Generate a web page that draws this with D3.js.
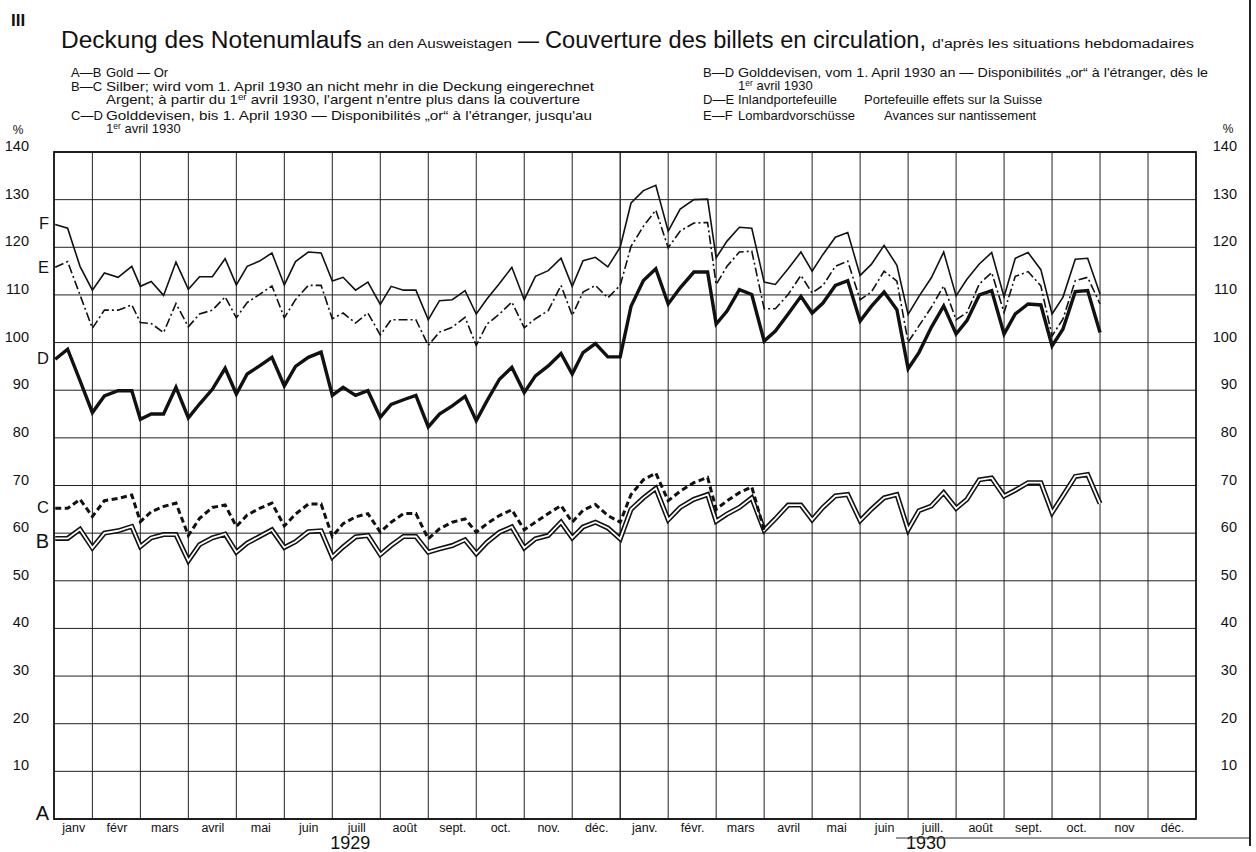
<!DOCTYPE html>
<html><head><meta charset="utf-8">
<script src="https://cdn.jsdelivr.net/npm/d3@7"></script>
<style>
body{margin:0;background:#fff}
svg{display:block}
text{font-family:'Liberation Sans',Arial,sans-serif;fill:#111}
</style></head><body>
<svg id="c" width="1256" height="852"></svg>
<script>
// ---------- data ----------
const monthLabels = ["janv","févr","mars","avril","mai","juin","juill","août","sept.","oct.","nov.","déc.",
                     "janv.","févr.","mars","avril","mai","juin","juill.","août","sept.","oct.","nov","déc."];
const yearLabels = ["1929","1930"];
const daysInMonth = [31,28,31,30,31,30,31,31,30,31,30,31, 31,28,31,30,31,30,31,31,30,31,30,31];
const reportDays = [7,15,23,31];   // Ausweistage: 7., 15., 23., Monatsende
const yTicks = [0,10,20,30,40,50,60,70,80,90,100,110,120,130,140];
const yTickLabels = [10,20,30,40,50,60,70,80,90,100,110,120,130,140];

// A-B Gold
const serieB = [58.9,58.9,60.8,56.9, 60,60.5,61.4,57.2, 59,59.7,59.7,54.2, 57.6,59,59.8,56,
  57.9,59.3,60.7,57, 58.2,60.3,60.5,55, 57.1,59.2,59.5,55.5, 57.4,59.3,59.3,56,
  56.7,57.4,58.6,55.7, 58.1,60.2,61.3,56.9, 58.8,59.5,62.3,59, 61.3,62.3,61.1,58.8,
  65,67.4,69.4,62.8, 65.4,67.1,68.1,62.5, 64,65.4,67.4,60.6, 63,65.9,65.9,62.8,
  65.4,67.8,68.1,62.6, 65,67.4,68.1,60.7, 64.7,65.7,68.5,65.2, 67.1,71.2,71.6,67.8,
  69,70.6,70.6,64.3, 67.8,71.9,72.3,66.2];
// B-C Silber (bis 31. März 1930)
const serieC = [65.2,65.2,67.1,63.5, 66.8,67.3,68,62.4, 64.5,65.6,66.3,59.5, 63.1,65.4,65.9,61.4,
  63.8,65.2,66.3,61.5, 64,66.1,66.1,59.3, 62,63.4,64.1,60.2, 62.3,64.1,64.1,58.8,
  60.9,62.3,63,60.2, 62,63.7,64.9,60.7, 62.3,64.1,65.8,62.3, 64.8,66,63.7,62.3,
  68.1,71.2,72.6,66.8, 68.8,70.6,71.7,65, 66.8,68.5,69.7,60.6];
// C-D / B-D Golddevisen
const serieD = [96.5,98.6,92,85.3, 88.8,89.9,89.9,83.9, 85,85,90.6,84.2, 87.1,90.2,94.6,89.2,
  93.4,95.1,96.9,90.9, 95,96.9,98,88.9, 90.6,88.9,89.9,84.3, 87,88,88.9,82.3,
  85,86.7,88.7,83.6, 87.8,92.3,94.8,89.5, 93,95.1,97.7,93.4, 97.9,99.8,97,97,
  107.6,113,115.5,108.1, 111.5,114.8,114.8,103.9, 106.6,111.1,110.1,100.3, 102.4,106,109.7,106.2,
  108.3,112,113,104.5, 107.6,110.6,106.9,94.5, 97.9,103.2,107.7,101.8, 104.6,110,110.9,101.8,
  106,108.1,107.9,99.3, 102.8,110.7,110.9,102.1];
// D-E Inlandportefeuille
const serieE = [115.8,117,110,103, 106.8,106.8,107.9,104.2, 104,102.1,108.2,103.3, 106,106.8,109.6,105.2,
  108.4,110.1,111.9,105.2, 109,112,112,105, 106.2,104.1,106.2,101.6, 104.8,104.8,104.8,99.4,
  102.2,103.2,105.3,99.4, 103.9,106,108.5,103.1, 105,106.7,112,105.7, 110.6,112,109.4,112,
  120.2,124.4,127.8,119.9, 123.4,125.1,125.2,112.2, 116,119,119.2,107.1, 107.1,110.1,114.1,110.4,
  112,116,117.1,109, 110.6,115,112.9,100.1, 103.5,107.4,111.9,104.8, 106.3,112.3,114.7,106.3,
  113.9,114.9,111.9,101.4, 104.9,113,113.7,108.1];
// E-F Lombardvorschüsse
const serieF = [124.8,124,116,111, 114.6,113.7,116,111.8, 112.8,109.9,116.9,111.2, 113.8,113.8,117.6,112.1,
  116,117.1,118.8,112.1, 117,119,118.8,112.9, 113.7,111,112.7,108, 111.8,111,111,104.8,
  108.8,109,110.9,106, 109.2,112.4,115.8,109, 113.9,115.1,117.7,111.8, 117.2,117.9,115.9,120,
  129.3,131.9,133,123.4, 128,130,130.1,117.8, 121.3,124.2,124,112.7, 112.2,115.5,119,115,
  118.5,122.1,123.1,114.1, 116.4,120.4,116.2,105.9, 109.7,113.6,119,109.8, 113.3,116.5,118.9,109.6,
  117.7,118.9,115.3,106, 109.5,117.5,117.7,110.2];

const curveLetters = ["F","E","D","C","B","A"];
const curveLetterValues = [125,115.8,96.8,65.4,58.3,1.2];

// ---------- drawing ----------
const svg = d3.select("#c");
const x = d3.scaleLinear().domain([0.2, 24]).range([54, 1196]);
const y = d3.scaleLinear().domain([0, 140]).range([819, 152]);
const tOf = i => { const m = Math.floor(i/4), k = i%4, dim = daysInMonth[m];
  return m + Math.min(reportDays[k], dim)/dim; };

// grid
const g = svg.append("g");
g.selectAll("line.h").data(yTicks).join("line")
  .attr("x1", x(0.2)).attr("x2", x(24)).attr("y1", d=>y(d)).attr("y2", d=>y(d))
  .attr("stroke", "#222").attr("stroke-width", 1);
g.selectAll("line.v").data(d3.range(1,24)).join("line")
  .attr("x1", d=>x(d)).attr("x2", d=>x(d)).attr("y1", y(140)).attr("y2", y(0))
  .attr("stroke", "#222").attr("stroke-width", d=> d===12 ? 1.4 : 1);
g.append("rect").attr("x", x(0.2)).attr("y", y(140)).attr("width", x(24)-x(0.2)).attr("height", y(0)-y(140))
  .attr("fill","none").attr("stroke","#111").attr("stroke-width",1.8);

// axes
const axL = svg.append("g").attr("transform",`translate(${x(0.2)},0)`)
  .call(d3.axisLeft(y).tickValues(yTickLabels).tickSize(0).tickPadding(25).tickFormat(d3.format("d")));
const axR = svg.append("g").attr("transform",`translate(${x(24)},0)`)
  .call(d3.axisRight(y).tickValues(yTickLabels).tickSize(0).tickPadding(41).tickFormat(d3.format("d")));
[axL, axR].forEach(a => { a.select(".domain").remove();
  a.selectAll("text").attr("dy","-0.1em").style("font-size","14.5px").style("font-family","'Liberation Sans',Arial,sans-serif").attr("fill","#111"); });
axR.selectAll("text").attr("text-anchor","end");
svg.append("text").attr("x",18).attr("y",134).attr("text-anchor","middle").style("font-size","12px").text("%");
svg.append("text").attr("x",1228).attr("y",133).attr("text-anchor","middle").style("font-size","12px").text("%");

// month labels
const monthCenters = monthLabels.map((d,i)=> i===0 ? (0.2+1)/2 : i+0.5);
const axB = svg.append("g").attr("transform",`translate(0,${y(0)})`)
  .call(d3.axisBottom(x).tickValues(monthCenters).tickSize(0).tickPadding(5).tickFormat((d,i)=>monthLabels[i]));
axB.select(".domain").remove();
axB.selectAll("text").style("font-size","12.5px").style("font-family","'Liberation Sans Narrow','Liberation Sans',sans-serif").attr("dy","0.62em").attr("fill","#111");
svg.selectAll("text.year").data(yearLabels).join("text").attr("class","year")
  .attr("x",(d,i)=>x(i*12+6.5)-6).attr("y",849).attr("text-anchor","middle")
  .style("font-size","18px").text(d=>d);
svg.append("line").attr("x1",896).attr("x2",1250).attr("y1",838).attr("y2",838).attr("stroke","#333").attr("stroke-width",1);
svg.append("line").attr("x1",1250).attr("x2",1250).attr("y1",0).attr("y2",846).attr("stroke","#222").attr("stroke-width",2);

// series
const line = d3.line().x((d,i)=>x(tOf(i))).y(d=>y(d)).curve(d3.curveLinear);
const plot = svg.append("g").attr("fill","none").attr("stroke-linejoin","miter");
plot.append("path").attr("d", line(serieB)).attr("stroke","#111").attr("stroke-width",5);
plot.append("path").attr("d", line(serieB)).attr("stroke","#fff").attr("stroke-width",1.8);
plot.append("path").attr("d", line(serieC)).attr("stroke","#111").attr("stroke-width",3).attr("stroke-dasharray","6,3.5");
plot.append("path").attr("d", line(serieD)).attr("stroke","#111").attr("stroke-width",3.4);
plot.append("path").attr("d", line(serieE)).attr("stroke","#111").attr("stroke-width",1.6).attr("stroke-dasharray","9,3,2,3");
plot.append("path").attr("d", line(serieF)).attr("stroke","#111").attr("stroke-width",1.6);

// curve letters
svg.selectAll("text.cl").data(curveLetters).join("text").attr("class","cl")
  .attr("x",49).attr("y",(d,i)=>y(curveLetterValues[i]))
  .attr("dy","0.36em").attr("text-anchor","end")
  .style("font-size", d => d==="B"||d==="A" ? "20px" : "16.5px").text(d=>d);

// title
svg.append("text").attr("x",11).attr("y",26).style("font-size","17px").style("font-weight","bold").text("III");
const title = [
  {t:"Deckung des Notenumlaufs", x:61, len:301, s:23.5},
  {t:"an den Ausweistagen", x:367, len:145, s:12},
  {t:"—", x:518, len:21, s:23},
  {t:"Couverture des billets en circulation,", x:545, len:381, s:23.5},
  {t:"d'après les situations hebdomadaires", x:932, len:262, s:12.5}];
svg.selectAll("text.tt").data(title).join("text").attr("class","tt")
  .attr("x",d=>d.x).attr("y",48).attr("textLength",d=>d.len).attr("lengthAdjust","spacingAndGlyphs")
  .style("font-size",d=>d.s+"px").text(d=>d.t);

// legend
const legKeys = [{t:"A—B",x:71,y:77},{t:"B—C",x:71,y:91},{t:"C—D",x:71,y:120},
  {t:"B—D",x:703,y:77},{t:"D—E",x:703,y:104},{t:"E—F",x:703,y:120}];
svg.selectAll("text.lk").data(legKeys).join("text").attr("class","lk")
  .attr("x",d=>d.x).attr("y",d=>d.y).style("font-size","13px").text(d=>d.t);
const legTexts = [
  {t:"Gold — Or", x:106, y:77},
  {t:"Silber; wird vom 1. April 1930 an nicht mehr in die Deckung eingerechnet", x:106, y:91, len:488},
  {t:"Argent; à partir du 1|er| avril 1930, l'argent n'entre plus dans la couverture", x:106, y:104, len:474},
  {t:"Golddevisen, bis 1. April 1930 — Disponibilités „or“ à l'étranger, jusqu'au", x:106, y:120, len:486},
  {t:"1|er| avril 1930", x:106, y:133},
  {t:"Golddevisen, vom 1. April 1930 an — Disponibilités „or“ à l'étranger, dès le", x:738, y:77, len:470},
  {t:"1|er| avril 1930", x:738, y:90},
  {t:"Inlandportefeuille", x:738, y:104},
  {t:"Portefeuille effets sur la Suisse", x:864, y:104},
  {t:"Lombardvorschüsse", x:738, y:120},
  {t:"Avances sur nantissement", x:884, y:120}];
legTexts.forEach(d => {
  const el = svg.append("text").attr("x",d.x).attr("y",d.y).style("font-size","13px");
  if (d.len) el.attr("textLength",d.len).attr("lengthAdjust","spacingAndGlyphs");
  d.t.split("|").forEach((part,i) => {
    const sp = el.append("tspan").text(part);
    if (i===1) sp.attr("dy","-4").style("font-size","8.5px");
    if (i===2) sp.attr("dy","4");
  });
});
</script>
</body></html>
